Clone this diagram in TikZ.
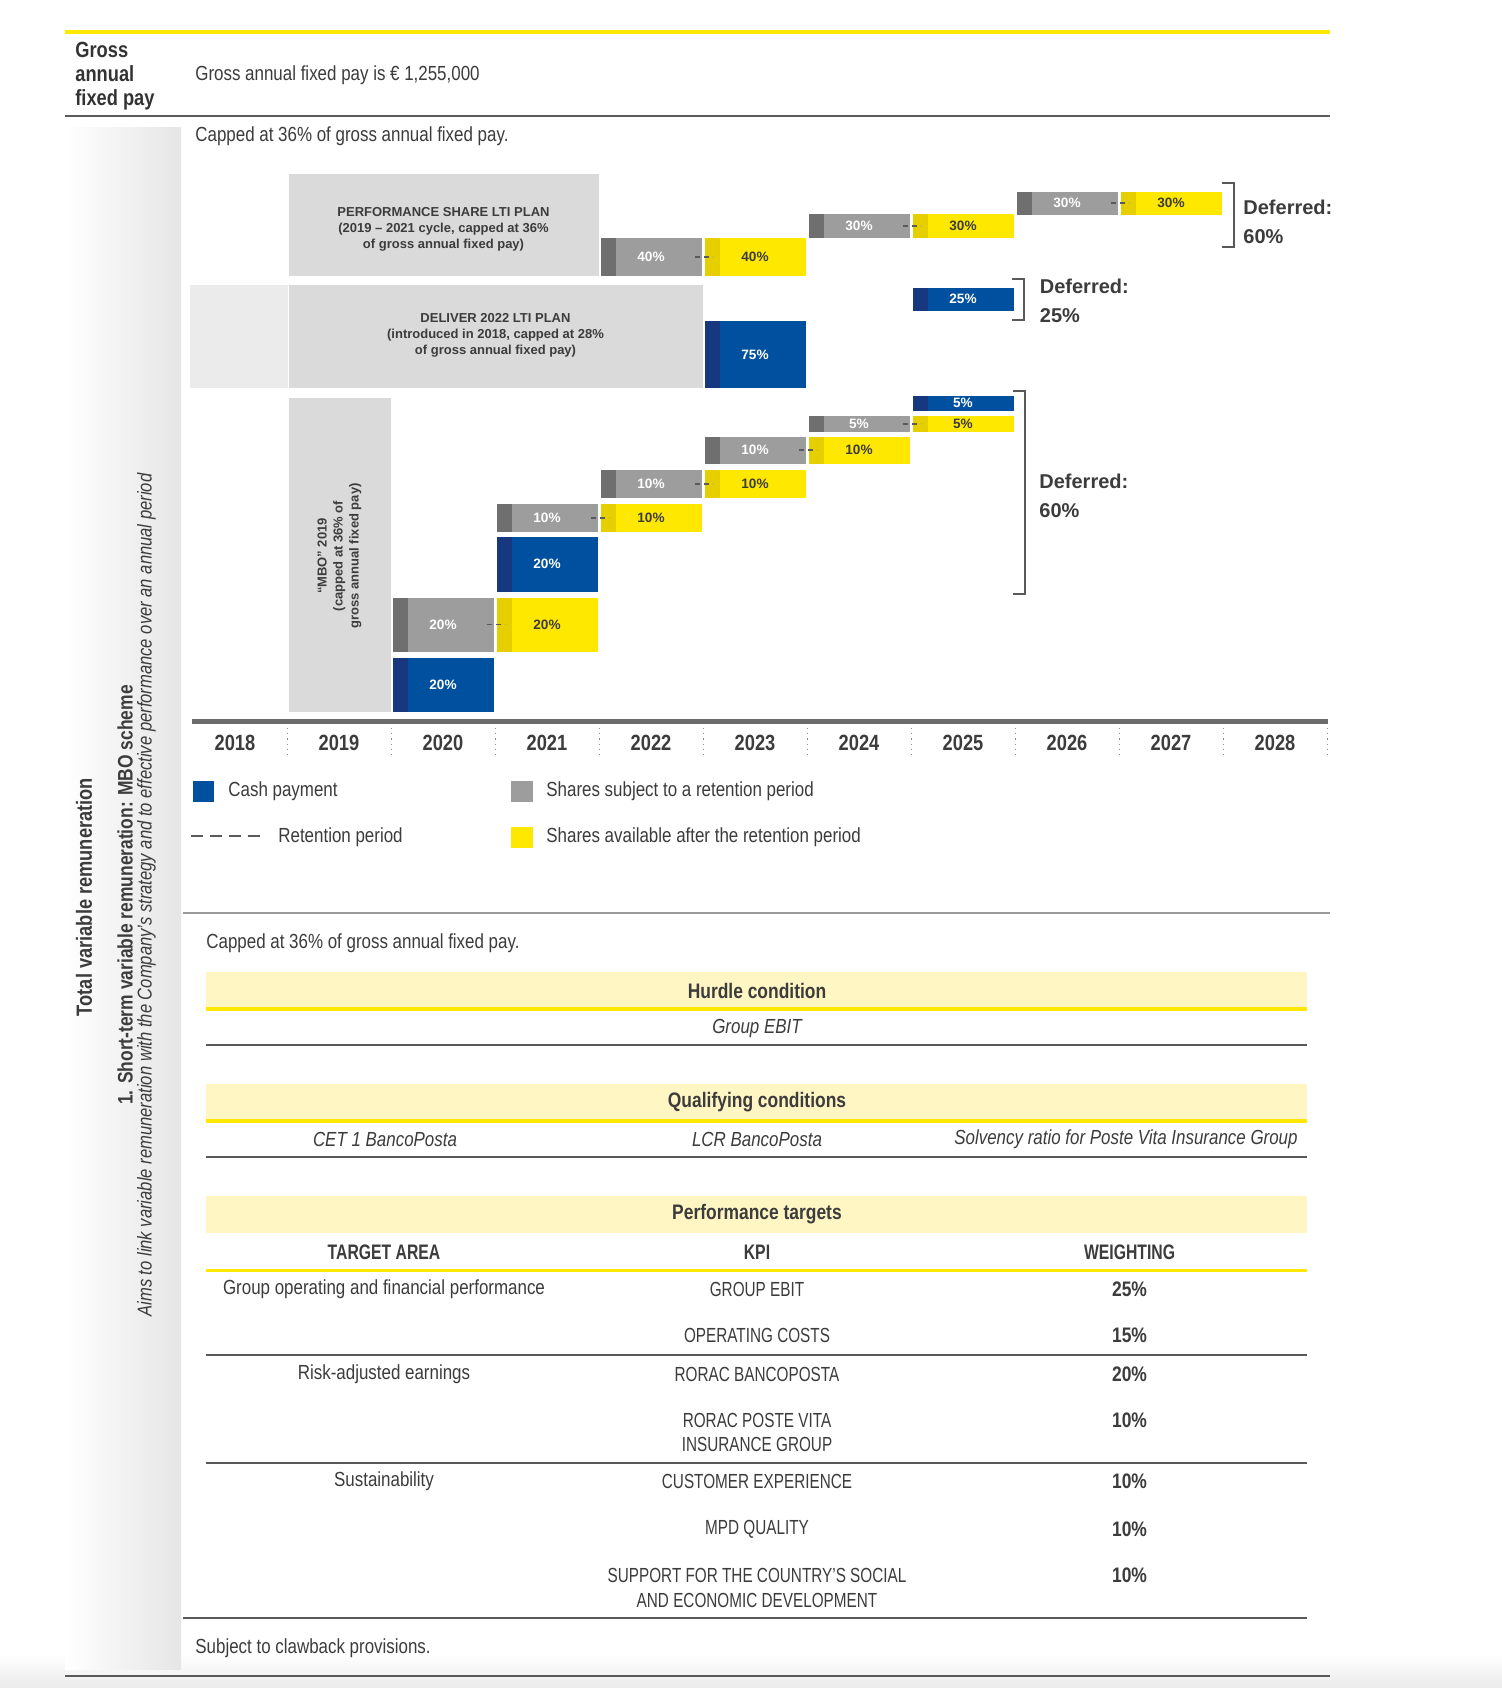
\documentclass[tikz,border=0pt]{standalone}
\usepackage{fontspec}
\setmainfont{Liberation Sans}[FakeStretch=0.83]
\newfontfamily\widefont{Liberation Sans}
\newfontfamily\capsfont{Liberation Sans}[FakeStretch=0.75]
\definecolor{cashblue}{HTML}{0050A0}
\definecolor{cashdark}{HTML}{17387F}
\definecolor{sharegray}{HTML}{9D9D9D}
\definecolor{sharedark}{HTML}{6F6F6F}
\definecolor{freeyellow}{HTML}{FFE800}
\definecolor{freedark}{HTML}{E5CF00}
\definecolor{planbox}{HTML}{DADADA}
\definecolor{planlight}{HTML}{EBEBEB}
\definecolor{bandyellow}{HTML}{FFF6C4}
\definecolor{rulegray}{HTML}{5A5A5A}
\definecolor{txt}{HTML}{3C3C3C}
\begin{document}
\begin{tikzpicture}[x=0.5pt,y=-0.5pt,line cap=butt,line join=miter,
	declare function={colx(\t)=288.5+104*(\t-2019);}]
	\tikzset{body/.style={font=\fontsize{10.2}{12.5}\selectfont,text=txt,inner sep=0pt},
		bodyit/.style={body,font=\fontsize{10.2}{12.5}\selectfont\itshape},
		head/.style={body,font=\fontsize{10.5}{12.5}\selectfont\bfseries},
		kpi/.style={body,align=center,font=\capsfont\fontsize{10.2}{12}\selectfont},
		colhead/.style={body,font=\capsfont\fontsize{10.5}{12.5}\selectfont\bfseries},
		boxtxt/.style={body,align=center,font=\widefont\bfseries\fontsize{6.5}{8}\selectfont},
		pct/.style={inner sep=0pt,font=\widefont\bfseries\fontsize{6.8}{8}\selectfont},
		yearlbl/.style={body,font=\fontsize{11}{13}\selectfont\bfseries},
		defer/.style={body,align=left,anchor=west,font=\widefont\bfseries\fontsize{10}{14.5}\selectfont},
		sidelbl/.style={body,rotate=90,font=\fontsize{11}{13}\selectfont\bfseries},
		brk/.style={rulegray,line width=1pt},
		retain/.style={rulegray,line width=0.9pt,dash pattern=on 2.5pt off 2pt},
		yline/.style={freeyellow,line width=1.6pt},
		tline/.style={rulegray,line width=1pt}
	}
	\useasboundingbox (0,0) rectangle (1502,1688);
	\fill[white] (0,0) rectangle (1502,1688);
	\shade[top color=white,bottom color=black!8] (0,1655) rectangle (1502,1688);
	% header
	\draw[yline] (65,32)--(1330,32);
	\node[body,align=left,anchor=west,font=\fontsize{11}{12}\selectfont\bfseries,text=black!80] (gross) at (75,76) {Gross\\annual\\fixed pay};
	\node[body,anchor=mid west] (pay) at (195,75) {Gross annual fixed pay is € 1,255,000};
	\draw[tline] (65,116)--(1330,116);
	% side column
	\shade[left color=white,right color=black!10] (65,127) rectangle (181,1669);
	\node[sidelbl] (total) at (84,897) {Total variable remuneration};
	\node[sidelbl,font=\fontsize{10.5}{13}\selectfont\bfseries] (mbo) at (125,895) {1. Short-term variable remuneration: MBO scheme};
	\node[body,rotate=90,font=\fontsize{10}{12}\selectfont\itshape] (aims) at (146.5,895) {Aims to link variable remuneration with the Company’s strategy and to effective performance over an annual period};
	\node[body,anchor=mid west] (cap1) at (195,136) {Capped at 36\% of gross annual fixed pay.};
	% plan boxes
	\fill[planbox] (288.5,174) rectangle (598.5,276);
	\node[boxtxt] (ps) at (443.5,229) {PERFORMANCE SHARE LTI PLAN\\(2019 – 2021 cycle, capped at 36\%\\of gross annual fixed pay)};
	\fill[planlight] (189.5,285) rectangle (287.5,388);
	\fill[planbox] (288.5,285) rectangle (702.5,388);
	\node[boxtxt] (deliver) at (495.5,335) {DELIVER 2022 LTI PLAN\\(introduced in 2018, capped at 28\%\\of gross annual fixed pay)};
	\fill[planbox] (288.5,398) rectangle (390.5,712);
	\node[boxtxt,rotate=90] (mbobox) at (339.5,556) {“MBO” 2019\\(capped at 36\% of\\gross annual fixed pay)};
	% bars
	\foreach \fc/\dc/\yr/\ya/\yb/\pc/\tc [count=\i] in {
		sharegray/sharedark/2022/238/276/40/white, freeyellow/freedark/2023/238/276/40/txt,
		sharegray/sharedark/2024/214/238/30/white, freeyellow/freedark/2025/214/238/30/txt,
		sharegray/sharedark/2026/191.5/215/30/white, freeyellow/freedark/2027/191.5/215/30/txt,
		cashblue/cashdark/2023/321/388/75/white, cashblue/cashdark/2025/287.5/311/25/white,
		sharegray/sharedark/2020/597.5/651.5/20/white, freeyellow/freedark/2021/597.5/651.5/20/txt,
		cashblue/cashdark/2020/658/712/20/white, cashblue/cashdark/2021/537/591.5/20/white,
		sharegray/sharedark/2021/504/531.5/10/white, freeyellow/freedark/2022/504/531.5/10/txt,
		sharegray/sharedark/2022/469.5/498/10/white, freeyellow/freedark/2023/469.5/498/10/txt,
		sharegray/sharedark/2023/436.5/464/10/white, freeyellow/freedark/2024/436.5/464/10/txt,
		sharegray/sharedark/2024/416/431.5/5/white, freeyellow/freedark/2025/416/431.5/5/txt,
		cashblue/cashdark/2025/395.5/410.5/5/white}{
		\fill[\fc] ({colx(\yr)},\ya) rectangle ({colx(\yr)+101},\yb);
		\fill[\dc] ({colx(\yr)},\ya) rectangle ({colx(\yr)+15},\yb);
		\node[pct,text=\tc] (bar\i) at ({colx(\yr)+50.5},{(\ya+\yb)/2}) {\pc\%};
	}
	\foreach \yr/\ym in {2023/257,2025/226,2027/203,2021/624.5,2022/518,2023/484,2024/450,2025/424}
	\draw[retain] ({colx(\yr)-10},\ym)--({colx(\yr)+8},\ym);
	% deferred brackets
	\draw[brk] (1222,183)--(1234,183)--(1234,247)--(1222,247);
	\node[defer] (def1) at (1243,221.5) {Deferred:\\60\%};
	\draw[brk] (1012,279)--(1024,279)--(1024,320)--(1012,320);
	\node[defer] (def2) at (1039.5,301) {Deferred:\\25\%};
	\draw[brk] (1013,391)--(1025,391)--(1025,594)--(1013,594);
	\node[defer] (def3) at (1039,496) {Deferred:\\60\%};
	% time axis
	\draw[line width=2.5pt,black!58] (192,721)--(1328,721);
	\foreach \yr in {2018,...,2028}
	\node[yearlbl] (y\yr) at ({colx(\yr)+50.5},742.5) {\yr};
	\foreach \yr in {2019,...,2029}
	\draw[black!45,dotted,line width=0.6pt] ({colx(\yr)-1},728)--({colx(\yr)-1},755);
	% legend
	\fill[cashblue] (193,781) rectangle (214,802);
	\node[body,anchor=mid west] (lcash) at (228,791.5) {Cash payment};
	\fill[sharegray] (511,781) rectangle (533,802);
	\node[body,anchor=mid west] (lshare) at (546,791.5) {Shares subject to a retention period};
	\draw[rulegray,line width=0.7pt,dash pattern=on 6pt off 3.5pt] (190.5,836)--(259.5,836);
	\node[body,anchor=mid west] (lret) at (278,837) {Retention period};
	\fill[freeyellow] (511,827) rectangle (533,848);
	\node[body,anchor=mid west] (lfree) at (546,837.5) {Shares available after the retention period};
	\draw[black!40,line width=1pt] (183,913)--(1330,913);
	% conditions table
	\node[body,anchor=mid west] (cap2) at (206,943) {Capped at 36\% of gross annual fixed pay.};
	\fill[bandyellow] (206,972) rectangle (1307,1009);
	\draw[yline] (206,1009)--(1307,1009);
	\node[head] (hurdle) at (757,991) {Hurdle condition};
	\node[bodyit] (ebit) at (757,1028) {Group EBIT};
	\draw[tline] (206,1045)--(1307,1045);
	\fill[bandyellow] (206,1084) rectangle (1307,1121);
	\draw[yline] (206,1121)--(1307,1121);
	\node[head] (qualif) at (757,1102.5) {Qualifying conditions};
	\node[bodyit] (cet) at (385,1139) {CET 1 BancoPosta};
	\node[bodyit] (lcr) at (757,1139) {LCR BancoPosta};
	\node[bodyit,anchor=east] (solv) at (1298,1139) {Solvency ratio for Poste Vita Insurance Group};
	\draw[tline] (206,1157)--(1307,1157);
	\fill[bandyellow] (206,1196) rectangle (1307,1233);
	\node[head] (perf) at (757,1214.5) {Performance targets};
	\node[colhead] (harea) at (384,1252) {TARGET AREA};
	\node[colhead] (hkpi) at (757,1252) {KPI};
	\node[colhead] (hweight) at (1129.5,1252) {WEIGHTING};
	\draw[yline] (206,1270.5)--(1307,1270.5);
	\node[body] (a1) at (384,1289) {Group operating and financial performance};
	\node[kpi] (k1) at (757,1289) {GROUP EBIT};
	\node[head] (w1) at (1129.5,1289) {25\%};
	\node[kpi] (k2) at (757,1335) {OPERATING COSTS};
	\node[head] (w2) at (1129.5,1335) {15\%};
	\draw[tline] (206,1354.5)--(1307,1354.5);
	\node[body] (a2) at (384,1374) {Risk-adjusted earnings};
	\node[kpi] (k3) at (757,1374) {RORAC BANCOPOSTA};
	\node[head] (w3) at (1129.5,1374) {20\%};
	\node[kpi] (k4) at (757,1432) {RORAC POSTE VITA\\INSURANCE GROUP};
	\node[head] (w4) at (1129.5,1420) {10\%};
	\draw[tline] (206,1463)--(1307,1463);
	\node[body] (a3) at (384,1481.5) {Sustainability};
	\node[kpi] (k5) at (757,1481.5) {CUSTOMER EXPERIENCE};
	\node[head] (w5) at (1129.5,1481.5) {10\%};
	\node[kpi] (k6) at (757,1529) {MPD QUALITY};
	\node[head] (w6) at (1129.5,1529) {10\%};
	\node[kpi,font=\capsfont\fontsize{10.2}{12.5}\selectfont] (k7) at (757,1587.5) {SUPPORT FOR THE COUNTRY’S SOCIAL\\AND ECONOMIC DEVELOPMENT};
	\node[head] (w7) at (1129.5,1575) {10\%};
	\draw[tline] (183,1618)--(1307,1618);
	\node[body,anchor=mid west] (claw) at (195,1648) {Subject to clawback provisions.};
	\draw[tline] (65,1676)--(1330,1676);
\end{tikzpicture}
\end{document}
